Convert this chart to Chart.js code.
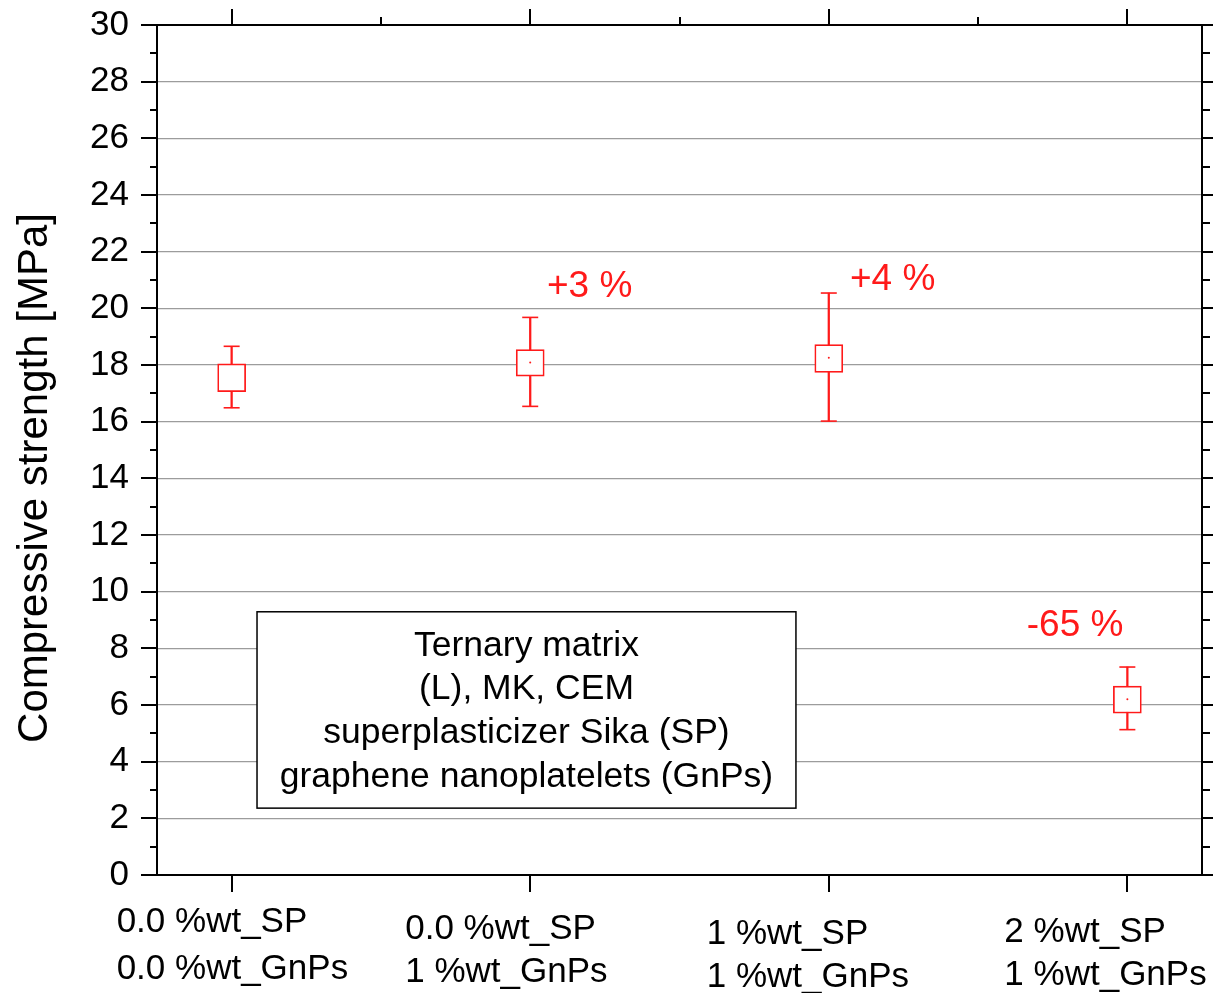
<!DOCTYPE html>
<html>
<head>
<meta charset="utf-8">
<script src="https://cdn.jsdelivr.net/npm/chart.js@4.4.0/dist/chart.umd.min.js"></script>
<style>
html,body{margin:0;padding:0;background:#fff;}
#wrap{width:1213px;height:993px;}
</style>
</head>
<body>
<div id="wrap"><canvas id="c" width="1213" height="993"></canvas></div>
<script>
// ---------- data ----------
const categories = [
  ['0.0 %wt_SP', '0.0 %wt_GnPs'],
  ['0.0 %wt_SP', '1 %wt_GnPs'],
  ['1 %wt_SP', '1 %wt_GnPs'],
  ['2 %wt_SP', '1 %wt_GnPs']
];
const whiskerLow  = [16.49, 16.54, 16.02, 5.13];
const boxLow      = [17.06, 17.61, 17.74, 5.71];
const boxHigh     = [18.04, 18.54, 18.72, 6.67];
const whiskerHigh = [18.66, 19.68, 20.54, 7.34];
const means       = [null, 18.09, 18.26, 6.20];
const changeLabels = ['', '+3 %', '+4 %', '-65 %'];
const yMin = 0, yMax = 30, yStep = 2;
const yTitle = 'Compressive strength [MPa]';
const noteLines = ['Ternary matrix', '(L), MK, CEM', 'superplasticizer Sika (SP)', 'graphene nanoplatelets (GnPs)'];

// ---------- styling / layout ----------
const RED = '#ff1a1a';
const FONT = '"Liberation Sans", Arial, sans-serif';
const idx = categories.map((_, i) => i);

const layoutOpts = {
  xLabelDx: [-115, -125, -122, -123],
  xLabelLine1: [932, 939, 944, 942],
  xLabelLine2: [979, 982, 987, 985],
  annPos: [null, {x: 1.056, y: 20.40}, {x: 2.071, y: 20.65}, {x: 2.663, y: 8.44}],
  note: {x0: 0.085, x1: 1.89, yTop: 9.29, yBot: 2.36, firstBaseline: 44, lineStep: 43.7},
  title: {x: 47, y: 478}
};

const decorPlugin = {
  id: 'decor',
  afterDatasetsDraw(chart) {
    const ctx = chart.ctx, xs = chart.scales.x, ys = chart.scales.y;
    ctx.save();
    ctx.fillStyle = RED;
    ctx.font = '37px ' + FONT;
    ctx.textAlign = 'left';
    ctx.textBaseline = 'alphabetic';
    changeLabels.forEach((t, i) => {
      const p = layoutOpts.annPos[i];
      if (!t || !p) return;
      ctx.fillText(t, xs.getPixelForValue(p.x), ys.getPixelForValue(p.y));
    });
    ctx.restore();
  },
  afterDraw(chart) {
    const ctx = chart.ctx, xs = chart.scales.x, ys = chart.scales.y;
    const a = chart.chartArea;
    ctx.save();
    // note box
    const n = layoutOpts.note;
    const bx0 = xs.getPixelForValue(n.x0), bx1 = xs.getPixelForValue(n.x1);
    const by0 = ys.getPixelForValue(n.yTop), by1 = ys.getPixelForValue(n.yBot);
    ctx.fillStyle = '#fff';
    ctx.fillRect(bx0, by0, bx1 - bx0, by1 - by0);
    ctx.strokeStyle = '#000';
    ctx.lineWidth = 1.5;
    ctx.strokeRect(bx0, by0, bx1 - bx0, by1 - by0);
    ctx.fillStyle = '#000';
    ctx.font = '35.5px ' + FONT;
    ctx.textAlign = 'center';
    ctx.textBaseline = 'alphabetic';
    noteLines.forEach((l, i) => {
      ctx.fillText(l, (bx0 + bx1) / 2, by0 + n.firstBaseline + i * n.lineStep);
    });

    // frame
    ctx.strokeStyle = '#000';
    ctx.lineWidth = 2;
    ctx.strokeRect(a.left, a.top, a.right - a.left, a.bottom - a.top);
    ctx.beginPath();
    for (let v = yMin; v <= yMax; v += 1) {
      const y = Math.round(ys.getPixelForValue(v));
      const major = v % yStep === 0;
      const len = major ? 16 : 7;
      ctx.moveTo(a.left - len, y); ctx.lineTo(a.left, y);
      ctx.moveTo(a.right, y); ctx.lineTo(a.right + (major ? 16 : 8), y);
    }
    idx.forEach(i => {
      const x = Math.round(xs.getPixelForValue(i));
      ctx.moveTo(x, a.top); ctx.lineTo(x, a.top - 16);
      ctx.moveTo(x, a.bottom); ctx.lineTo(x, a.bottom + 17);
      if (i < idx.length - 1) {
        const xm = Math.round(xs.getPixelForValue(i + 0.5));
        ctx.moveTo(xm, a.top); ctx.lineTo(xm, a.top - 8);
      }
    });
    ctx.stroke();

    // x category labels
    ctx.fillStyle = '#000';
    ctx.font = '35px ' + FONT;
    ctx.textAlign = 'left';
    categories.forEach((lines, i) => {
      const x = xs.getPixelForValue(i) + layoutOpts.xLabelDx[i];
      ctx.fillText(lines[0], x, layoutOpts.xLabelLine1[i]);
      ctx.fillText(lines[1], x, layoutOpts.xLabelLine2[i]);
    });

    // y axis title
    ctx.translate(layoutOpts.title.x, layoutOpts.title.y);
    ctx.rotate(-Math.PI / 2);
    ctx.font = '42px ' + FONT;
    ctx.textAlign = 'center';
    ctx.textBaseline = 'alphabetic';
    ctx.fillText(yTitle, 0, 0);
    ctx.restore();
  }
};

new Chart(document.getElementById('c'), {
  type: 'scatter',
  data: {
    datasets: [
      {
        type: 'bar',
        label: 'whisker',
        data: idx.map(i => ({x: i, y: [whiskerLow[i], whiskerHigh[i]]})),
        backgroundColor: RED,
        borderWidth: 0,
        grouped: false,
        barThickness: 1.6,
        maxBarThickness: 1.6,
        order: 4
      },
      {
        type: 'bar',
        label: 'box',
        data: idx.map(i => ({x: i, y: [boxLow[i], boxHigh[i]]})),
        backgroundColor: '#ffffff',
        borderColor: RED,
        borderWidth: 1.7,
        borderSkipped: false,
        grouped: false,
        barThickness: 28,
        maxBarThickness: 28,
        order: 3
      },
      {
        label: 'caps',
        data: idx.flatMap(i => [{x: i, y: whiskerLow[i]}, {x: i, y: whiskerHigh[i]}]),
        pointStyle: 'line',
        pointRadius: 8,
        borderColor: RED,
        borderWidth: 1.6,
        order: 2
      },
      {
        label: 'mean',
        data: idx.filter(i => means[i] !== null).map(i => ({x: i, y: means[i]})),
        pointStyle: 'circle',
        pointRadius: 1,
        backgroundColor: RED,
        borderWidth: 0,
        order: 1
      }
    ]
  },
  options: {
    responsive: false,
    animation: false,
    devicePixelRatio: 1,
    layout: {padding: {left: 0, top: 25, right: 11, bottom: 118}},
    plugins: {legend: {display: false}, tooltip: {enabled: false}},
    scales: {
      x: {type: 'linear', min: -0.25, max: 3.25, offset: false, display: false},
      y: {
        type: 'linear',
        min: yMin, max: yMax,
        afterFit(s) { s.width = 157; s.paddingTop = 0; s.paddingBottom = 0; },
        border: {display: false},
        grid: {color: '#9c9c9c', lineWidth: 1.3, drawTicks: false},
        ticks: {stepSize: yStep, padding: 28, color: '#000', font: {family: FONT, size: 35}}
      }
    }
  },
  plugins: [decorPlugin]
});
</script>
</body>
</html>
